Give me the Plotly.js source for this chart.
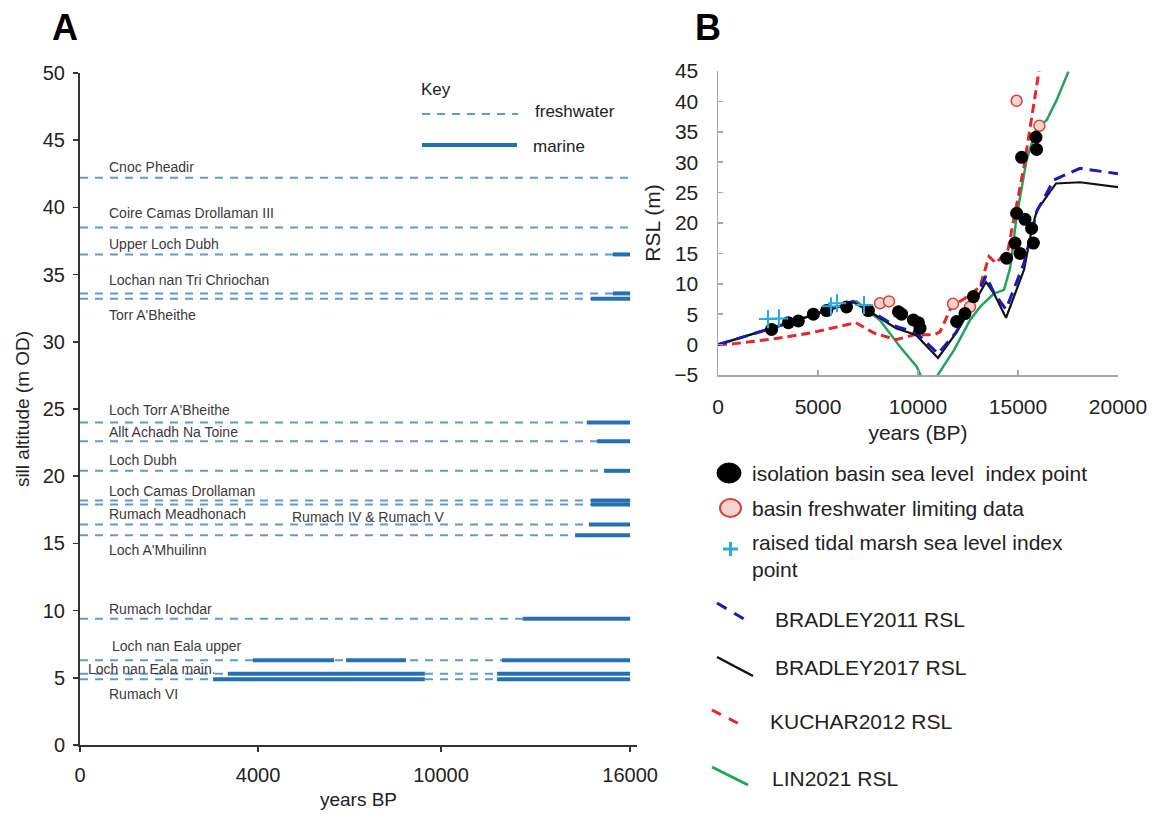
<!DOCTYPE html>
<html>
<head>
<meta charset="utf-8">
<script src="https://cdn.plot.ly/plotly-3.0.1.min.js"></script>
<style>html,body{margin:0;padding:0;background:#fff;}</style>
</head>
<body>
<div id="chart" style="width:1154px;height:816px;"></div>
<script>
// ---------------- Panel A data ----------------
const siteNames = ["Cnoc Pheadir", "Coire Camas Drollaman III", "Upper Loch Dubh", "Lochan nan Tri Chriochan",
  "Torr A'Bheithe", "Loch Torr A'Bheithe", "Allt Achadh Na Toine", "Loch Dubh", "Loch Camas Drollaman",
  "Rumach IV & Rumach V", "Rumach Meadhonach", "Loch A'Mhuilinn", "Rumach Iochdar", "Loch nan Eala upper",
  "Loch nan Eala main.", "Rumach VI"];
const sillAltitude = [42.2, 38.5, 36.5, 33.6, 33.2, 24.0, 22.6, 20.4, 18.2, 17.9, 16.4, 15.6, 9.4, 6.3, 5.3, 4.9];
const recordStart = 0;
const recordEnd = 16000;
// marine phases: site index, start (years BP), end (years BP)
const marineSite = [2, 3, 4, 5, 6, 7, 8, 9, 10, 11, 12, 13, 13, 13, 14, 14, 15, 15];
const marineFrom = [15500, 15500, 14860, 14740, 15040, 15240, 14860, 14860, 14800, 14400, 12880, 5030, 7740, 12270, 4300, 12130, 3870, 12130];
const marineTo   = [16000, 16000, 16000, 16000, 16000, 16000, 16000, 16000, 16000, 16000, 16000, 7390, 9480, 16000, 10030, 16000, 10030, 16000];
const xTickLabelsA = ["0", "4000", "10000", "16000"];
const yTicksA = [0, 5, 10, 15, 20, 25, 30, 35, 40, 45, 50];

// ---------------- Panel B data ----------------
const bradley2011Years = [0, 3000, 6750, 7600, 8900, 9900, 11000, 11900, 12800, 13400, 13800, 14400, 15300, 15950, 16800, 18100, 20000];
const bradley2011RSL   = [0, 3.0, 7.1, 5.6, 3.0, 2.0, -1.5, 2.0, 7.3, 11.3, 8.5, 5.8, 13.4, 22.0, 27.1, 29.0, 28.1];
const bradley2017Years = [0, 3000, 6750, 7600, 8900, 9900, 11000, 11900, 12800, 13400, 13800, 14400, 15300, 15700, 15950, 16900, 18100, 20000];
const bradley2017RSL   = [0, 3.0, 7.0, 5.4, 2.7, 1.6, -2.2, 1.9, 6.8, 10.3, 8.4, 4.4, 12.3, 19.1, 22.1, 26.5, 26.7, 25.9];
const kuchar2012Years  = [0, 700, 2900, 4600, 6900, 7800, 8900, 9800, 10800, 11100, 11700, 12300, 13100, 13350, 13550, 13900, 14500, 15300, 16050];
const kuchar2012RSL    = [0, 0.1, 1.0, 1.9, 3.6, 1.9, 0.8, 1.6, 1.6, 2.1, 6.4, 7.5, 9.5, 12.5, 14.5, 13.4, 15.6, 29.3, 45];
const lin2021Years     = [0, 3000, 6930, 8100, 9100, 9930, 10400, 10930, 11800, 12600, 13100, 13800, 14300, 14600, 14930, 15430, 15930, 16430, 16930, 17520];
const lin2021RSL       = [0, 3.1, 7.1, 4.0, -0.35, -3.6, -7.0, -5.3, -0.9, 4.0, 6.2, 8.4, 9.0, 12.5, 21.0, 30.4, 35.6, 36.9, 40.2, 44.9];
const isolationYears = [2680, 3520, 4020, 4770, 5430, 6430, 7520, 9020, 9180, 9770, 10020, 10100, 11930, 12350, 12770, 14430, 14850, 15100, 15680, 15770, 14930, 15350, 15180, 15930, 15900];
const isolationRSL   = [2.5, 3.6, 3.9, 5.0, 5.6, 6.2, 5.6, 5.4, 5.0, 4.05, 3.6, 2.7, 3.8, 5.1, 7.9, 14.2, 16.7, 15.0, 19.1, 16.7, 21.6, 20.6, 30.8, 32.1, 34.1];
const freshwaterYears = [8100, 8550, 11750, 12600, 14930, 16070];
const freshwaterRSL   = [6.8, 7.1, 6.7, 6.2, 40.1, 36.0];
const tidalYears = [2500, 3050, 5650, 5950, 7300];
const tidalRSL   = [4.2, 4.3, 6.3, 6.8, 6.5];
const xTicksB = [0, 5000, 10000, 15000, 20000];
const xTickLabelsB = ["0", "5000", "10000", "15000", "20000"];
const yTicksB = [-5, 0, 5, 10, 15, 20, 25, 30, 35, 40, 45];
const legendLabelsB = ["isolation basin sea level  index point", "basin freshwater limiting data",
  "raised tidal marsh sea level index", "point", "BRADLEY2011 RSL", "BRADLEY2017 RSL", "KUCHAR2012 RSL", "LIN2021 RSL"];

// ---------------- layout helpers (pixel -> paper) ----------------
const W = 1154, H = 816;
const px = v => v / W;
const py = v => 1 - v / H;
const FONT = "Arial, 'Liberation Sans', sans-serif";

// Panel A: x tick positions as drawn in the figure (axis labels unevenly spaced in the original)
const xTickValsA = [0, 5180, 10500, 16000];
const labelX = [785, 785, 785, 785, 785, 785, 785, 785, 785, 6110, 785, 785, 785, 873, 175, 785];
const labelDy = [0.8, 1.1, 0.8, 1.0, -1.2, 0.9, 0.7, 0.8, 0.7, -0.9, 0.8, -1.1, 0.7, 1.1, 0.35, -1.1];

// freshwater dashed lines
const fwX = [], fwY = [];
sillAltitude.forEach(a => { fwX.push(recordStart, recordEnd, null); fwY.push(a, a, null); });
// marine solid segments
const mX = [], mY = [];
marineSite.forEach((s, i) => { mX.push(marineFrom[i], marineTo[i], null); mY.push(sillAltitude[s], sillAltitude[s], null); });

const traces = [
  {x: fwX, y: fwY, xaxis: 'x', yaxis: 'y', mode: 'lines', line: {color: '#5b9bd5', width: 2, dash: '8px,7px'}, hoverinfo: 'skip'},
  {x: mX, y: mY, xaxis: 'x', yaxis: 'y', mode: 'lines', line: {color: '#2470b3', width: 4}, hoverinfo: 'skip'},
  {x: lin2021Years, y: lin2021RSL, xaxis: 'x2', yaxis: 'y2', mode: 'lines', line: {color: '#1fa65a', width: 2.5}},
  {x: kuchar2012Years, y: kuchar2012RSL, xaxis: 'x2', yaxis: 'y2', mode: 'lines', line: {color: '#e5262b', width: 3, dash: '9px,5px'}},
  {x: bradley2017Years, y: bradley2017RSL, xaxis: 'x2', yaxis: 'y2', mode: 'lines', line: {color: '#111111', width: 2.2}},
  {x: bradley2011Years, y: bradley2011RSL, xaxis: 'x2', yaxis: 'y2', mode: 'lines', line: {color: '#1a1ab8', width: 3, dash: '12px,7px'}},
  {x: freshwaterYears, y: freshwaterRSL, xaxis: 'x2', yaxis: 'y2', mode: 'markers', marker: {symbol: 'circle', size: 11, color: '#f6d3cf', line: {color: '#d9413a', width: 1.5}}},
  {x: isolationYears, y: isolationRSL, xaxis: 'x2', yaxis: 'y2', mode: 'markers', marker: {symbol: 'circle', size: 13, color: '#000000'}},
  {x: tidalYears, y: tidalRSL, xaxis: 'x2', yaxis: 'y2', mode: 'markers', marker: {symbol: 'cross-thin', size: 13, line: {color: '#29abe2', width: 2}}}
];

const annotations = [];
siteNames.forEach((n, i) => {
  annotations.push({x: labelX[i], y: sillAltitude[i] + labelDy[i], xref: 'x', yref: 'y', text: n, showarrow: false,
    xanchor: 'left', yanchor: 'middle', font: {family: FONT, size: 14, color: '#3a3a3a'}});
});
// panel letters
annotations.push({x: px(65), y: py(28), xref: 'paper', yref: 'paper', text: '<b>A</b>', showarrow: false, xanchor: 'center', yanchor: 'middle', font: {family: FONT, size: 36, color: '#000'}});
annotations.push({x: px(708), y: py(28), xref: 'paper', yref: 'paper', text: '<b>B</b>', showarrow: false, xanchor: 'center', yanchor: 'middle', font: {family: FONT, size: 36, color: '#000'}});
// key (panel A)
annotations.push({x: px(419), y: py(89), xref: 'paper', yref: 'paper', text: 'Key', showarrow: false, xanchor: 'left', yanchor: 'middle', font: {family: FONT, size: 17, color: '#222'}});
annotations.push({x: px(533), y: py(112), xref: 'paper', yref: 'paper', text: 'freshwater', showarrow: false, xanchor: 'left', yanchor: 'middle', font: {family: FONT, size: 17, color: '#222'}});
annotations.push({x: px(531), y: py(146), xref: 'paper', yref: 'paper', text: 'marine', showarrow: false, xanchor: 'left', yanchor: 'middle', font: {family: FONT, size: 17, color: '#222'}});
// legend (panel B)
const legTextPos = [[750, 473], [750, 508], [750, 542], [750, 569], [773, 619], [773, 667], [768, 721], [770, 778]];
legendLabelsB.forEach((t, i) => {
  annotations.push({x: px(legTextPos[i][0]), y: py(legTextPos[i][1]), xref: 'paper', yref: 'paper', text: t, showarrow: false,
    xanchor: 'left', yanchor: 'middle', font: {family: FONT, size: 21, color: '#222'}});
});

const shapes = [
  // key lines
  {type: 'line', xref: 'paper', yref: 'paper', x0: px(422), x1: px(518), y0: py(114), y1: py(114), line: {color: '#5b9bd5', width: 2, dash: '8px,7px'}},
  {type: 'line', xref: 'paper', yref: 'paper', x0: px(422), x1: px(517), y0: py(145), y1: py(145), line: {color: '#2470b3', width: 4}},
  // legend B symbols
  {type: 'circle', xref: 'paper', yref: 'paper', x0: px(717), x1: px(741), y0: py(463), y1: py(483), fillcolor: '#000', line: {color: '#000', width: 1}},
  {type: 'circle', xref: 'paper', yref: 'paper', x0: px(720), x1: px(741), y0: py(499), y1: py(517), fillcolor: '#f6d3cf', line: {color: '#d9413a', width: 2}},
  {type: 'line', xref: 'paper', yref: 'paper', x0: px(723), x1: px(738), y0: py(549), y1: py(549), line: {color: '#29abe2', width: 3}},
  {type: 'line', xref: 'paper', yref: 'paper', x0: px(730.5), x1: px(730.5), y0: py(542), y1: py(556), line: {color: '#29abe2', width: 3}},
  {type: 'line', xref: 'paper', yref: 'paper', x0: px(717), x1: px(749), y0: py(603), y1: py(622), line: {color: '#1a1ab8', width: 3, dash: '11px,9px'}},
  {type: 'line', xref: 'paper', yref: 'paper', x0: px(717), x1: px(753), y0: py(657), y1: py(676), line: {color: '#111', width: 2.5}},
  {type: 'line', xref: 'paper', yref: 'paper', x0: px(712), x1: px(745), y0: py(710), y1: py(727), line: {color: '#e5262b', width: 3, dash: '10px,9px'}},
  {type: 'line', xref: 'paper', yref: 'paper', x0: px(712), x1: px(748), y0: py(767), y1: py(785), line: {color: '#1fa65a', width: 3}}
];

const layout = {
  width: W, height: H, autosize: false,
  margin: {l: 0, r: 0, t: 0, b: 0},
  paper_bgcolor: '#fff', plot_bgcolor: 'rgba(0,0,0,0)',
  showlegend: false,
  font: {family: FONT, color: '#222'},
  xaxis: {domain: [px(80), px(637)], range: [0, 16200], tickvals: xTickValsA, ticktext: xTickLabelsA,
    showgrid: false, zeroline: false, showline: true, linecolor: '#333', linewidth: 2,
    ticks: 'outside', ticklen: 5, tickcolor: '#333', tickwidth: 1.5, ticklabelstandoff: 6,
    tickfont: {family: FONT, size: 20, color: '#222'},
    title: {text: 'years BP', font: {family: FONT, size: 19, color: '#222'}, standoff: 8}},
  yaxis: {domain: [py(745), py(73)], range: [0, 50], tickvals: yTicksA,
    showgrid: false, zeroline: false, showline: true, linecolor: '#333', linewidth: 2,
    ticks: 'outside', ticklen: 5, tickcolor: '#333', tickwidth: 1.5, ticklabelstandoff: 4,
    tickfont: {family: FONT, size: 20, color: '#222'},
    title: {text: 'sill altitude (m OD)', font: {family: FONT, size: 19, color: '#222'}, standoff: 8}},
  xaxis2: {domain: [px(718), px(1118)], range: [0, 20000], anchor: 'y2', tickvals: xTicksB, ticktext: xTickLabelsB,
    showgrid: false, zeroline: false, showline: true, linecolor: '#a6a6a6', linewidth: 1.5,
    ticks: 'inside', ticklen: 5, tickcolor: '#a6a6a6', tickwidth: 1.5, ticklabelstandoff: 12,
    tickfont: {family: FONT, size: 21, color: '#222'},
    title: {text: 'years (BP)', font: {family: FONT, size: 21, color: '#222'}, standoff: 8}},
  yaxis2: {domain: [py(375), py(71)], range: [-5, 45], anchor: 'x2', tickvals: yTicksB,
    showgrid: false, zeroline: false, showline: true, linecolor: '#a6a6a6', linewidth: 1.5,
    ticks: 'inside', ticklen: 5, tickcolor: '#a6a6a6', tickwidth: 1.5, ticklabelstandoff: 14,
    tickfont: {family: FONT, size: 21, color: '#222'},
    title: {text: 'RSL (m)', font: {family: FONT, size: 21, color: '#222'}, standoff: 8}},
  annotations: annotations,
  shapes: shapes
};

Plotly.newPlot('chart', traces, layout, {displayModeBar: false, staticPlot: true});
</script>
</body>
</html>
